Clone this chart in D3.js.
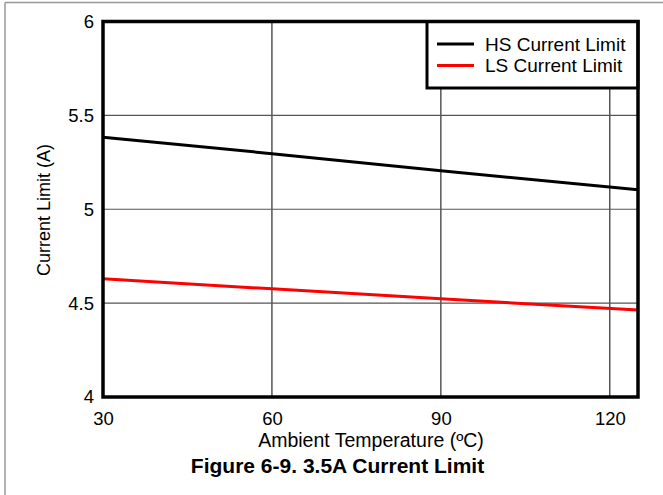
<!DOCTYPE html>
<html>
<head>
<meta charset="utf-8">
<script src="https://cdn.jsdelivr.net/npm/d3@7"></script>
<style>
  body { margin: 0; background: #fff; }
  text { font-family: "Liberation Sans", Arial, sans-serif; fill: #000; }
</style>
</head>
<body>
<div id="chart"></div>
<script>
// data
var temps = [30, 60, 90, 125];
var hsLimit = [5.384, 5.296, 5.205, 5.104];
var lsLimit = [4.630, 4.576, 4.523, 4.463];
var xTicks = [30, 60, 90, 120];
var yTicks = [4, 4.5, 5, 5.5, 6];
var seriesNames = ["HS Current Limit", "LS Current Limit"];
var seriesColors = ["#000000", "#ff0000"];

var svgWidth = 663;
var svgHeight = 495;
var margin = { top: 21.5, right: 25, bottom: 98, left: 103 };
var width = 638 - margin.left;
var height = 397 - margin.top;

var svg = d3.select("#chart")
  .append("svg")
  .attr("width", svgWidth)
  .attr("height", svgHeight);

// outer page frame (left and top edges only)
svg.append("line").attr("x1", 5).attr("x2", 5).attr("y1", 2.5).attr("y2", svgHeight)
  .attr("stroke", "#999").attr("stroke-width", 1.5);
svg.append("line").attr("x1", 5).attr("x2", svgWidth).attr("y1", 2.5).attr("y2", 2.5)
  .attr("stroke", "#999").attr("stroke-width", 1.5);

var chartGroup = svg.append("g")
  .attr("transform", `translate(${margin.left}, ${margin.top})`);

var x = d3.scaleLinear().domain([30, 125]).range([0, width]);
var y = d3.scaleLinear().domain([4, 6]).range([height, 0]);

// grid
chartGroup.append("g")
  .selectAll("line")
  .data(xTicks.filter(d => d > 30))
  .enter()
  .append("line")
  .attr("x1", d => x(d)).attr("x2", d => x(d))
  .attr("y1", 0).attr("y2", height)
  .attr("stroke", "#000").attr("stroke-width", 1);

chartGroup.append("g")
  .selectAll("line")
  .data(yTicks.filter(d => d > 4 && d < 6))
  .enter()
  .append("line")
  .attr("x1", 0).attr("x2", width)
  .attr("y1", d => y(d)).attr("y2", d => y(d))
  .attr("stroke", "#555").attr("stroke-width", 1.2);

// axes (labels only)
var bottomAxis = d3.axisBottom(x).tickValues(xTicks).tickSize(0).tickPadding(15).tickFormat(d3.format("d"));
var leftAxis = d3.axisLeft(y).tickValues(yTicks).tickSize(0).tickPadding(9).tickFormat(d => d);

var gx = chartGroup.append("g")
  .attr("transform", `translate(0, ${height})`)
  .call(bottomAxis);
var gy = chartGroup.append("g").call(leftAxis);
[gx, gy].forEach(function(g) {
  g.select(".domain").remove();
  g.selectAll("text").style("font-size", "18.5px").style("font-family", "Liberation Sans, Arial, sans-serif").attr("fill", "#000");
});

// series
var line = d3.line().x((d, i) => x(temps[i])).y(d => y(d));
[hsLimit, lsLimit].forEach(function(vals, i) {
  chartGroup.append("path")
    .datum(vals)
    .attr("d", line)
    .attr("fill", "none")
    .attr("stroke", seriesColors[i])
    .attr("stroke-width", 3);
});

// legend
var lx = x.invert(427 - margin.left);
var legend = chartGroup.append("g")
  .attr("transform", `translate(${x(lx)}, 0)`);
legend.append("rect")
  .attr("x", 0).attr("y", 0)
  .attr("width", width - x(lx)).attr("height", 66.5)
  .attr("fill", "#fff").attr("stroke", "#000").attr("stroke-width", 3);
seriesNames.forEach(function(name, i) {
  legend.append("line")
    .attr("x1", 10).attr("x2", 47)
    .attr("y1", 22.5 + i * 21.5).attr("y2", 22.5 + i * 21.5)
    .attr("stroke", seriesColors[i]).attr("stroke-width", 3);
  legend.append("text")
    .attr("x", 58).attr("y", 22.5 + i * 21.5)
    .attr("dy", "0.35em")
    .style("font-size", "19px")
    .text(name);
});

// plot frame
chartGroup.append("rect")
  .attr("x", 0).attr("y", 0)
  .attr("width", width).attr("height", height)
  .attr("fill", "none").attr("stroke", "#000").attr("stroke-width", 3.5);

// axis titles
chartGroup.append("text")
  .attr("transform", "rotate(-90)")
  .attr("x", -188.5)
  .attr("y", -53)
  .attr("text-anchor", "middle")
  .style("font-size", "18px")
  .text("Current Limit (A)");

chartGroup.append("text")
  .attr("x", 268)
  .attr("y", height + 50)
  .attr("text-anchor", "middle")
  .style("font-size", "19.5px")
  .text("Ambient Temperature (\u00BAC)");

svg.append("text")
  .attr("x", 337.5)
  .attr("y", 473)
  .attr("text-anchor", "middle")
  .style("font-size", "21px")
  .style("font-weight", "bold")
  .text("Figure 6-9. 3.5A Current Limit");
</script>
</body>
</html>
